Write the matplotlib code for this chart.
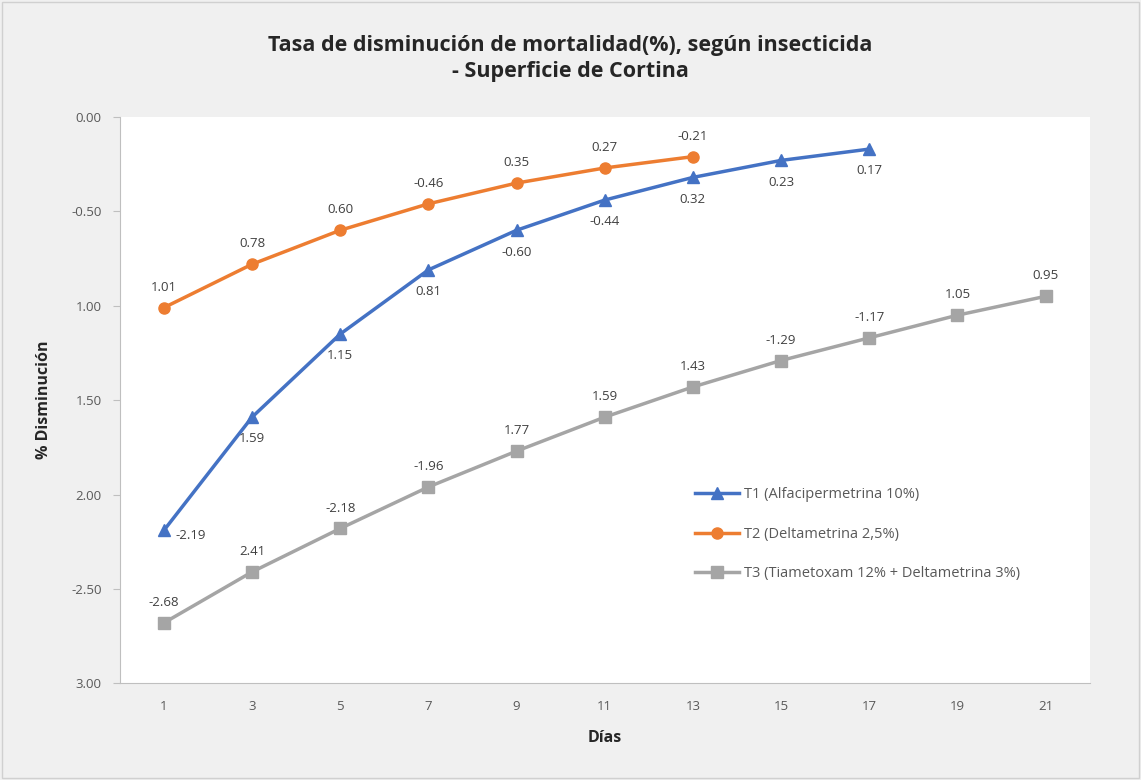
import numpy as np
import matplotlib.pyplot as plt
from matplotlib.patches import Rectangle

plt.rcParams['font.family'] = ['Open Sans', 'DejaVu Sans']

dias = ["1", "3", "5", "7", "9", "11", "13", "15", "17", "19", "21"]

t1 = [-2.19, -1.59, -1.15, -0.81, -0.60, -0.44, -0.32, -0.23, -0.17]
t2 = [-1.01, -0.78, -0.60, -0.46, -0.35, -0.27, -0.21]
t3 = [-2.68, -2.41, -2.18, -1.96, -1.77, -1.59, -1.43, -1.29, -1.17, -1.05, -0.95]

# labels as they appear on the original picture
t1_lab = ["-2.19", "1.59", "1.15", "0.81", "-0.60", "-0.44", "0.32", "0.23", "0.17"]
t2_lab = ["1.01", "0.78", "0.60", "-0.46", "0.35", "0.27", "-0.21"]
t3_lab = ["-2.68", "2.41", "-2.18", "-1.96", "1.77", "1.59", "1.43", "-1.29", "-1.17", "1.05", "0.95"]

yticks = [0, -0.5, -1.0, -1.5, -2.0, -2.5, -3.0]
ytick_lab = ["0.00", "-0.50", "1.00", "1.50", "2.00", "-2.50", "3.00"]

names = ["T1 (Alfacipermetrina 10%)", "T2 (Deltametrina 2,5%)",
         "T3 (Tiametoxam 12% + Deltametrina 3%)"]
colors = ["#4472C4", "#ED7D31", "#A5A5A5"]

fig = plt.figure(figsize=(11.41, 7.80), dpi=100, facecolor="#f0f0f0")
fig.patches.append(Rectangle((0.002, 0.003), 0.996, 0.994, transform=fig.transFigure,
                             fill=False, edgecolor="#d0d0d0", linewidth=1))
ax = fig.add_axes([0.105, 0.124, 0.85, 0.726])
ax.set_facecolor("white")

x1 = np.arange(len(t1))
x2 = np.arange(len(t2))
x3 = np.arange(len(t3))

ax.plot(x1, t1, color=colors[0], lw=2.5, marker="^", ms=8, label=names[0])
ax.plot(x2, t2, color=colors[1], lw=2.5, marker="o", ms=8, label=names[1])
ax.plot(x3, t3, color=colors[2], lw=2.5, marker="s", ms=8, label=names[2])

lab_kw = dict(fontsize=9.5, color="#404040", textcoords="offset points")
for i, (v, s) in enumerate(zip(t1, t1_lab)):
    if i == 0:
        ax.annotate(s, (i, v), xytext=(8, -4), ha="left", va="center", **lab_kw)
    else:
        ax.annotate(s, (i, v), xytext=(0, -11), ha="center", va="top", **lab_kw)
for i, (v, s) in enumerate(zip(t2, t2_lab)):
    ax.annotate(s, (i, v), xytext=(0, 10), ha="center", va="bottom", **lab_kw)
for i, (v, s) in enumerate(zip(t3, t3_lab)):
    ax.annotate(s, (i, v), xytext=(0, 10), ha="center", va="bottom", **lab_kw)

ax.set_xlim(-0.5, len(dias) - 0.5)
ax.set_xticks(np.arange(len(dias)))
ax.set_xticklabels(dias)
ax.set_ylim(-3.0, 0)
ax.set_yticks(yticks)
ax.set_yticklabels(ytick_lab)

for sp in ["top", "right"]:
    ax.spines[sp].set_visible(False)
ax.spines["left"].set_color("#bfbfbf")
ax.spines["bottom"].set_color("#bfbfbf")
ax.tick_params(axis="x", length=0, labelsize=9.5, labelcolor="#595959", pad=12)
ax.tick_params(axis="y", length=5, color="#bfbfbf", labelsize=9.5, labelcolor="#595959", pad=8)

ax.set_xlabel("Días", fontsize=11.5, fontweight="bold", color="#262626", labelpad=12)
ax.set_ylabel("% Disminución", fontsize=11.5, fontweight="bold", color="#262626", labelpad=14)

fig.text(0.5, 0.925, "Tasa de disminución de mortalidad(%), según insecticida\n- Superficie de Cortina",
         ha="center", va="center", fontsize=15.5, fontweight="bold", color="#262626", linespacing=1.3)

ax.legend(loc="upper left", bbox_to_anchor=(0.58, 0.37), frameon=False, fontsize=10.5,
          labelcolor="#595959", handlelength=3, labelspacing=1.7, handletextpad=0.3)

fig.savefig("out.png", dpi=100, facecolor=fig.get_facecolor())
